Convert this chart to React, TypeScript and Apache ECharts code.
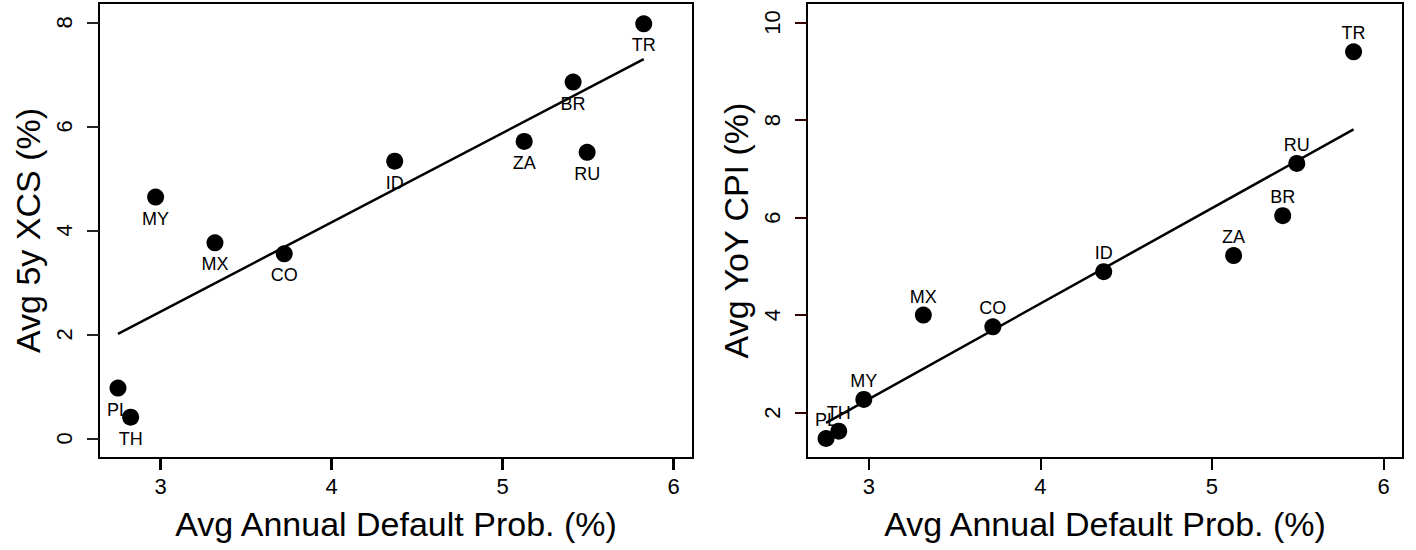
import React, { useEffect, useRef } from "react";
import * as echarts from "echarts";

// ---- data ----
const countries = ["PL", "TH", "MY", "MX", "CO", "ID", "ZA", "BR", "RU", "TR"];
const defaultProb = [2.751, 2.825, 2.971, 3.318, 3.723, 4.369, 5.126, 5.412, 5.494, 5.825];
const xcs5y = [0.97, 0.41, 4.64, 3.76, 3.55, 5.33, 5.71, 6.85, 5.5, 7.97];
const cpiYoY = [1.47, 1.62, 2.27, 4.0, 3.76, 4.89, 5.22, 6.04, 7.11, 9.4];

const fitX = [2.751, 5.825];
const xcsFitY = [2.01, 7.29];
const cpiFitY = [1.79, 7.81];

const xTicks = [3, 4, 5, 6];
const xcsTicks = [0, 2, 4, 6, 8];
const cpiTicks = [2, 4, 6, 8, 10];

const xRange = [2.64, 6.113];
const xcsRange = [-0.375, 8.37];
const cpiRange = [1.07, 10.4];

const xTitle = "Avg Annual Default Prob. (%)";
const xcsTitle = "Avg 5y XCS (%)";
const cpiTitle = "Avg YoY CPI (%)";

const FONT = "Liberation Sans, Arial, Helvetica, sans-serif";

export default function App() {
  const ref = useRef<HTMLDivElement>(null);

  useEffect(() => {
    document.body.style.margin = "0";
    if (!ref.current) return;
    const chart = echarts.init(ref.current, undefined, { renderer: "svg" });

    const pts = (ys: number[]) => defaultProb.map((x, i) => [x, ys[i], countries[i]]);
    const fit = (ys: number[]) => fitX.map((x, i) => [x, ys[i]]);

    const xAxisBase = (gridIndex: number, tickColor: string, tickWidth: number, lineShow: boolean) => ({
      type: "value",
      gridIndex,
      min: xRange[0],
      max: xRange[1],
      name: xTitle,
      nameLocation: "middle",
      nameGap: 49,
      nameTextStyle: { fontFamily: FONT, fontSize: 34, color: "#000" },
      axisLine: { show: lineShow, onZero: false, lineStyle: { color: "#000", width: 2 } },
      splitLine: { show: false },
      axisTick: {
        show: true,
        inside: false,
        length: 12,
        customValues: xTicks,
        lineStyle: { color: tickColor, width: tickWidth, type: "solid" },
      },
      axisLabel: {
        customValues: xTicks,
        margin: 17,
        fontFamily: FONT,
        fontSize: 22,
        color: "#000",
      },
    });

    const yAxisBase = (gridIndex: number, range: number[], ticks: number[], title: string, tickColor: string, tickWidth: number) => ({
      type: "value",
      gridIndex,
      min: range[0],
      max: range[1],
      name: title,
      nameLocation: "middle",
      nameGap: 54,
      nameTextStyle: { fontFamily: FONT, fontSize: 34, color: "#000" },
      axisLine: { show: true, onZero: false, lineStyle: { color: "#000", width: 2 } },
      splitLine: { show: false },
      axisTick: {
        show: true,
        inside: false,
        length: 12,
        customValues: ticks,
        lineStyle: { color: tickColor, width: tickWidth, type: "solid" },
      },
      axisLabel: {
        customValues: ticks,
        rotate: 90,
        margin: 24,
        fontFamily: FONT,
        fontSize: 22,
        color: "#000",
      },
    });

    const labelSeries = (idx: number, ys: number[], position: string, distance: number) => ({
      type: "scatter",
      xAxisIndex: idx,
      yAxisIndex: idx,
      data: pts(ys),
      symbol: "circle",
      symbolSize: 17,
      itemStyle: { color: "rgba(0,0,0,0)", opacity: 1 },
      z: 3,
      label: {
        show: true,
        position,
        distance,
        formatter: (p: any) => p.data[2],
        fontFamily: FONT,
        fontSize: 18,
        color: "#000",
      },
      labelLayout: { hideOverlap: false },
      emphasis: { disabled: true },
      silent: true,
    });

    const pointSeries = (idx: number, ys: number[]) => ({
      type: "scatter",
      xAxisIndex: idx,
      yAxisIndex: idx,
      data: pts(ys),
      symbol: "circle",
      symbolSize: 17,
      itemStyle: { color: "#000", opacity: 1 },
      z: 7,
      emphasis: { disabled: true },
      silent: true,
    });

    const lineSeries = (idx: number, ys: number[]) => ({
      type: "line",
      xAxisIndex: idx,
      yAxisIndex: idx,
      data: fit(ys),
      showSymbol: false,
      symbol: "none",
      lineStyle: { color: "#000", width: 2.5 },
      z: 5,
      emphasis: { disabled: true },
      silent: true,
    });

    chart.setOption({
      animation: false,
      grid: [
        { left: 99, top: 3, width: 594, height: 455, show: true, borderColor: "#000", borderWidth: 2 },
        { left: 807, top: 3, width: 596, height: 455, show: true, borderColor: "#000", borderWidth: 2 },
      ],
      xAxis: [xAxisBase(0, "#000", 3, true), xAxisBase(1, "#000", 2, false)],
      yAxis: [
        yAxisBase(0, xcsRange, xcsTicks, xcsTitle, "#222", 2),
        yAxisBase(1, cpiRange, cpiTicks, cpiTitle, "#300", 2),
      ],
      series: [
        labelSeries(0, xcs5y, "bottom", 4),
        lineSeries(0, xcsFitY),
        pointSeries(0, xcs5y),
        labelSeries(1, cpiYoY, "top", 1),
        lineSeries(1, cpiFitY),
        pointSeries(1, cpiYoY),
      ],
    });

    return () => chart.dispose();
  }, []);

  return <div ref={ref} style={{ width: 1416, height: 550, position: "absolute", left: 0, top: 0, background: "#fff" }} />;
}
